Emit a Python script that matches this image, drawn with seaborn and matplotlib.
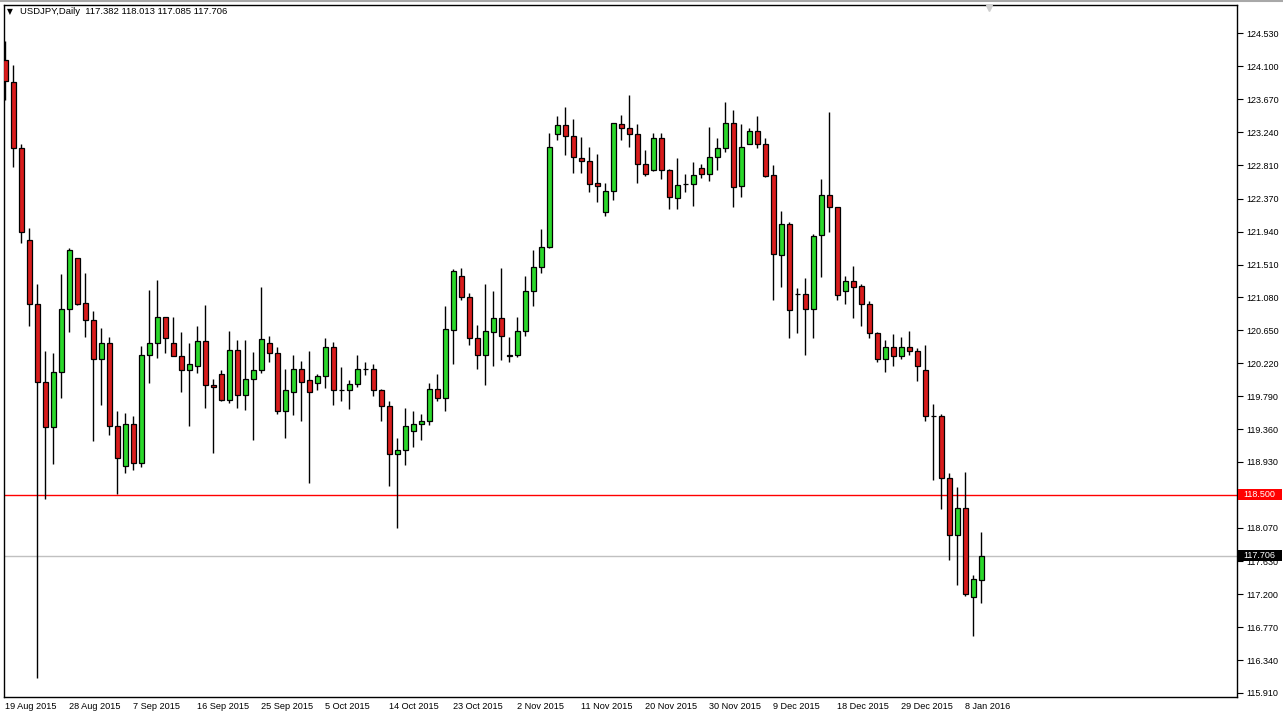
import matplotlib
matplotlib.use("Agg")
import numpy as np
import pandas as pd
import matplotlib.pyplot as plt
import matplotlib.transforms as mtransforms
from matplotlib.patches import Rectangle
from matplotlib.lines import Line2D
import seaborn as sns

# Chart header
SYMBOL = "USDJPY,Daily"
LAST_QUOTE = "117.382 118.013 117.085 117.706"

# Daily OHLC values, 19 Aug 2015 .. 11 Jan 2016
opens = [124.19, 123.90, 123.03, 121.83, 121.00, 119.98, 119.38, 120.11, 120.93, 121.59,
         121.01, 120.79, 120.27, 120.49, 119.40, 118.88, 119.43, 118.92, 120.33, 120.48,
         120.82, 120.49, 120.31, 120.13, 120.18, 120.51, 119.94, 120.08, 119.74, 120.39,
         119.80, 120.01, 120.13, 120.49, 120.35, 119.60, 119.85, 120.15, 120.00, 119.96,
         120.05, 120.43, 119.87, 119.87, 119.95, 120.15, 120.14, 119.87, 119.66, 119.03,
         119.08, 119.34, 119.42, 119.47, 119.88, 119.76, 120.66, 121.36, 121.08, 120.55,
         120.33, 120.63, 120.81, 120.31, 120.33, 120.64, 121.16, 121.48, 121.74, 123.21,
         123.34, 123.19, 122.90, 122.86, 122.58, 122.20, 122.47, 123.35, 123.30, 123.22,
         122.83, 122.74, 123.17, 122.74, 122.38, 122.56, 122.56, 122.77, 122.69, 122.91,
         123.03, 123.36, 122.54, 123.08, 123.26, 123.09, 122.68, 121.64, 122.04, 121.13,
         121.13, 120.93, 121.89, 122.42, 122.26, 121.17, 121.30, 121.23, 121.00, 120.62,
         120.27, 120.43, 120.32, 120.43, 120.38, 120.13, 119.53, 119.53, 118.72, 117.97,
         118.33, 117.17, 117.382]

highs = [124.43, 124.12, 123.08, 121.99, 121.26, 120.38, 120.35, 121.39, 121.72, 121.60,
         121.40, 120.90, 120.68, 120.56, 119.60, 119.57, 119.53, 120.44, 121.18, 121.31,
         120.83, 120.82, 120.63, 120.48, 120.71, 120.98, 120.01, 120.13, 120.64, 120.52,
         120.52, 120.37, 121.22, 120.58, 120.43, 120.15, 120.33, 120.25, 120.38, 120.08,
         120.55, 120.50, 120.17, 120.00, 120.33, 120.24, 120.21, 119.88, 119.73, 119.24,
         119.64, 119.59, 119.55, 119.96, 120.08, 120.97, 121.45, 121.46, 121.14, 120.72,
         121.25, 121.16, 121.46, 120.56, 120.83, 121.36, 121.70, 121.98, 123.23, 123.45,
         123.57, 123.41, 123.18, 123.05, 122.96, 122.58, 123.36, 123.47, 123.72, 123.35,
         123.01, 123.23, 123.23, 122.76, 122.90, 122.69, 122.85, 122.82, 123.31, 123.17,
         123.64, 123.53, 123.35, 123.30, 123.45, 123.16, 122.81, 122.21, 122.07, 121.20,
         121.33, 121.91, 122.63, 123.50, 122.26, 121.36, 121.49, 121.26, 121.03, 120.63,
         120.52, 120.60, 120.56, 120.64, 120.42, 120.46, 119.69, 119.56, 118.79, 118.60,
         118.80, 117.45, 118.013]

lows = [123.66, 122.78, 121.79, 120.70, 116.11, 118.45, 118.90, 119.77, 120.63, 120.98,
        120.56, 119.20, 119.68, 119.28, 118.51, 118.78, 118.83, 118.86, 119.96, 120.29,
        120.35, 120.31, 119.84, 119.40, 120.09, 119.64, 119.04, 119.73, 119.70, 119.64,
        119.61, 119.21, 120.09, 120.23, 119.55, 119.24, 119.54, 119.47, 118.66, 119.87,
        119.90, 119.67, 119.73, 119.62, 119.91, 120.07, 119.79, 119.47, 118.61, 118.06,
        118.89, 119.12, 119.21, 119.41, 119.72, 119.59, 120.21, 121.04, 120.46, 120.15,
        119.93, 120.19, 120.26, 120.23, 120.30, 120.58, 120.97, 121.40, 121.72, 123.14,
        122.94, 122.70, 122.71, 122.46, 122.33, 122.14, 122.35, 123.14, 123.05, 122.58,
        122.67, 122.73, 122.63, 122.23, 122.23, 122.46, 122.27, 122.64, 122.60, 122.74,
        122.98, 122.26, 122.39, 123.08, 123.03, 122.66, 121.04, 121.22, 120.55, 120.61,
        120.33, 120.55, 121.35, 121.93, 121.04, 121.00, 120.81, 120.70, 120.55, 120.23,
        120.11, 120.18, 120.28, 120.33, 119.99, 119.46, 118.69, 118.32, 117.65, 117.32,
        117.18, 116.66, 117.085]

closes = [123.91, 123.03, 121.94, 121.00, 119.98, 119.38, 120.11, 120.93, 121.70, 121.00,
          120.79, 120.27, 120.49, 119.40, 118.98, 119.43, 118.92, 120.33, 120.48, 120.82,
          120.55, 120.32, 120.13, 120.21, 120.51, 119.94, 119.91, 119.74, 120.39, 119.80,
          120.01, 120.13, 120.54, 120.35, 119.60, 119.87, 120.15, 119.98, 119.84, 120.05,
          120.43, 119.87, 119.87, 119.95, 120.15, 120.15, 119.87, 119.66, 119.03, 119.08,
          119.40, 119.42, 119.47, 119.88, 119.76, 120.67, 121.42, 121.08, 120.55, 120.33,
          120.64, 120.81, 120.57, 120.33, 120.64, 121.17, 121.48, 121.74, 123.05, 123.34,
          123.19, 122.91, 122.86, 122.56, 122.54, 122.47, 123.36, 123.29, 123.21, 122.83,
          122.69, 123.17, 122.74, 122.39, 122.55, 122.56, 122.68, 122.69, 122.91, 123.03,
          123.36, 122.52, 123.05, 123.26, 123.09, 122.67, 121.65, 122.04, 120.91, 121.13,
          120.93, 121.88, 122.42, 122.26, 121.11, 121.29, 121.22, 121.00, 120.62, 120.27,
          120.43, 120.32, 120.43, 120.38, 120.18, 119.53, 119.53, 118.72, 117.97, 118.33,
          117.20, 117.40, 117.706]

date_labels = ["19 Aug 2015", "28 Aug 2015", "7 Sep 2015", "16 Sep 2015", "25 Sep 2015",
               "5 Oct 2015", "14 Oct 2015", "23 Oct 2015", "2 Nov 2015", "11 Nov 2015",
               "20 Nov 2015", "30 Nov 2015", "9 Dec 2015", "18 Dec 2015", "29 Dec 2015",
               "8 Jan 2016"]
date_every = 8  # one date label every 8 bars

price_labels = ["115.910", "116.340", "116.770", "117.200", "117.630", "118.070",
                "118.500", "118.930", "119.360", "119.790", "120.220", "120.650",
                "121.080", "121.510", "121.940", "122.370", "122.810", "123.240",
                "123.670", "124.100", "124.530"]

level_line = 118.500
last_price = 117.706

COLORS = {"up": "#2bd82b", "down": "#d91c1c", "flat": "black"}

sns.set_theme(style="white")
plt.rcParams["font.family"] = ["Liberation Sans", "DejaVu Sans"]

df = pd.DataFrame({"open": opens, "high": highs, "low": lows, "close": closes})
df["x"] = np.arange(len(df))
df["body_low"] = df[["open", "close"]].min(axis=1)
df["body_h"] = (df["close"] - df["open"]).abs()
df["color"] = np.where(df["close"] > df["open"], COLORS["up"],
                       np.where(df["close"] < df["open"], COLORS["down"], COLORS["flat"]))

W, H = 1283, 719
px_per_yen = 76.5
fig = plt.figure(figsize=(W / 100, H / 100), dpi=100)
ax = fig.add_axes([4 / W, 22 / H, 1233 / W, 692.5 / H])

# horizontal levels under the candles
ax.axhline(level_line, color="#ff0000", lw=1, zorder=1)
ax.axhline(last_price, color="#c0c0c0", lw=1, zorder=1)

# wicks + bodies
ax.vlines(df["x"], df["low"], df["high"], color="black", lw=1, zorder=2)
ax.bar(df["x"], df["body_h"], bottom=df["body_low"], width=0.56,
       color=df["color"], edgecolor="black", linewidth=0.9, zorder=3)

px_per_bar = 8.0
x0 = -0.18
ax.set_xlim(x0, x0 + 1233 / px_per_bar)
ax.set_ylim(115.857, 124.909)

# axes frame
for s in ax.spines.values():
    s.set_visible(True)
    s.set_color("black")
    s.set_linewidth(1)

# price axis on the right (118.500 is shown by its own tag)
ax.yaxis.tick_right()
ax.set_yticks([float(v) for v in price_labels])
ax.set_yticklabels(["" if float(v) == level_line else v for v in price_labels],
                   fontsize=6.5, color="black")
ax.tick_params(axis="y", direction="out", length=4, width=0.8, pad=3, colors="black")

# date axis
ax.set_xticks(np.arange(len(date_labels)) * date_every)
ax.set_xticklabels(date_labels, fontsize=6.6, color="black")
for lbl in ax.get_xticklabels():
    lbl.set_ha("left")
ax.tick_params(axis="x", direction="out", length=3, width=0.8, pad=0.5, colors="black")
ax.grid(False)

# price tags at the right
trans = mtransforms.blended_transform_factory(ax.transAxes, ax.transData)
tag_h = 11 / px_per_yen
for value, fc in [(level_line, "#ff0000"), (last_price, "black")]:
    ax.add_patch(Rectangle((1 + 1 / 1233, value - tag_h / 2), 44 / 1233, tag_h,
                           transform=trans, facecolor=fc, edgecolor="none",
                           clip_on=False, zorder=5))
    ax.text(1 + 6 / 1233, value, f"{value:.3f}", transform=trans, ha="left",
            va="center", fontsize=6.5, color="white", clip_on=False, zorder=6)

# chart shift marker at the top
trans_top = mtransforms.blended_transform_factory(ax.transData, ax.transAxes)
ax.plot([122.9], [1 - 3 / 692], marker="v", markersize=5, color="#cfcfcf",
        transform=trans_top, clip_on=False, zorder=6)

# window edge above the chart
fig.add_artist(Line2D([0, 1], [1 - 1 / H, 1 - 1 / H], transform=fig.transFigure,
                      color="#a8a8a8", lw=1.5))

# header
fig.text(7 / W, 1 - 12 / H, "\u25bc", fontsize=5.5, va="center", ha="left",
         family=["DejaVu Sans"], color="black")
fig.text(20 / W, 1 - 12 / H, f"{SYMBOL}  {LAST_QUOTE}", fontsize=6.8,
         va="center", ha="left", color="black")

fig.savefig("out.png", dpi=100, facecolor="white")
